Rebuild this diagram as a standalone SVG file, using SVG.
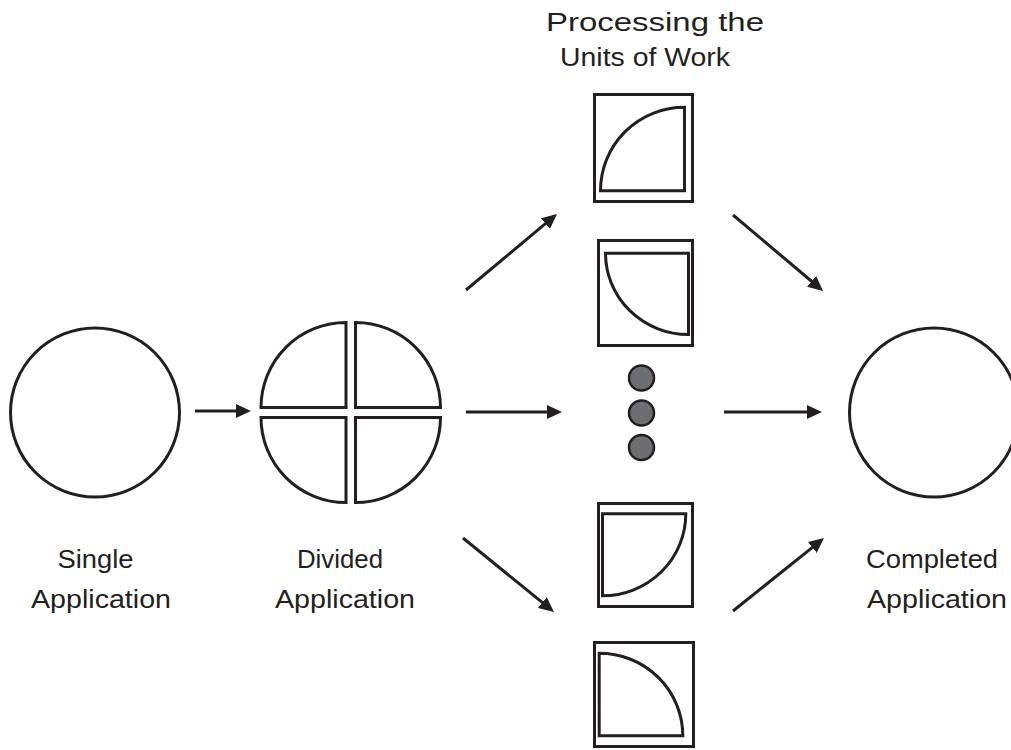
<svg xmlns="http://www.w3.org/2000/svg" width="1011" height="750" viewBox="0 0 1011 750">
<style>
.ln{fill:none;stroke:#231f20;stroke-width:3}
.sh{fill:#fff;stroke:#231f20;stroke-width:3;stroke-linejoin:miter}
.dot{fill:#6d6e71;stroke:#231f20;stroke-width:2.5}
.arr{fill:none;stroke:#231f20;stroke-width:3;marker-end:url(#ah)}
.lbl{font-family:"Liberation Sans",Arial,sans-serif;font-size:26px;fill:#231f20;text-anchor:middle}
</style>
<defs>
<marker id="ah" markerUnits="userSpaceOnUse" markerWidth="15" markerHeight="14" viewBox="0 0 15 14" refX="5" refY="7" orient="auto">
<path d="M0,0 L15,7 L0,14 z" fill="#231f20"/>
</marker>
</defs>
<rect width="1011" height="750" fill="#fff"/>

<g id="single-application">
<circle class="sh" cx="95" cy="412.5" r="84.5"/>
<text class="lbl" x="95.5" y="568" textLength="76" lengthAdjust="spacingAndGlyphs">Single</text>
<text class="lbl" x="101" y="608" textLength="140" lengthAdjust="spacingAndGlyphs">Application</text>
</g>

<g id="divided-application">
<path class="sh" d="M346,407.5 V322.5 A85,85 0 0 0 261,407.5 Z"/>
<path class="sh" d="M355.5,407.5 V322.5 A85,85 0 0 1 440.5,407.5 Z"/>
<path class="sh" d="M346,417.5 V502.5 A85,85 0 0 1 261,417.5 Z"/>
<path class="sh" d="M355.5,417.5 V502.5 A85,85 0 0 0 440.5,417.5 Z"/>
<text class="lbl" x="340" y="568" textLength="86" lengthAdjust="spacingAndGlyphs">Divided</text>
<text class="lbl" x="345" y="608" textLength="140" lengthAdjust="spacingAndGlyphs">Application</text>
</g>

<g id="processing-units">
<text class="lbl" x="655" y="31" textLength="218" lengthAdjust="spacingAndGlyphs">Processing the</text>
<text class="lbl" x="645" y="66" textLength="170" lengthAdjust="spacingAndGlyphs">Units of Work</text>
<g id="unit-1">
<rect class="sh" x="594.5" y="94.5" width="98" height="107"/>
<path class="sh" d="M684.5,190.8 H600.5 A84,83.6 0 0 1 684.5,107.2 Z"/>
</g>
<g id="unit-2">
<rect class="sh" x="598.5" y="240.5" width="94" height="105"/>
<path class="sh" d="M688.5,253.2 V334.5 A83,81.3 0 0 1 605.5,253.2 Z"/>
</g>
<g id="ellipsis">
<circle class="dot" cx="641.5" cy="378" r="12.5"/>
<circle class="dot" cx="641.5" cy="413" r="12.5"/>
<circle class="dot" cx="641.5" cy="447.5" r="12.5"/>
</g>
<g id="unit-3">
<rect class="sh" x="598.5" y="503.5" width="94" height="103"/>
<path class="sh" d="M602.5,513.8 H685.8 A83.3,82 0 0 1 602.5,595.8 Z"/>
</g>
<g id="unit-4">
<rect class="sh" x="594.5" y="642.5" width="99" height="104"/>
<path class="sh" d="M599.2,735.8 V653.2 A83.6,82.6 0 0 1 682.8,735.8 Z"/>
</g>
</g>

<g id="completed-application">
<circle class="sh" cx="934" cy="412.5" r="84.5"/>
<text class="lbl" x="932" y="568" textLength="132" lengthAdjust="spacingAndGlyphs">Completed</text>
<text class="lbl" x="937" y="608" textLength="140" lengthAdjust="spacingAndGlyphs">Application</text>
</g>

<g id="connectors">
<line class="arr" x1="195" y1="411" x2="241" y2="411"/>
<line class="arr" x1="466" y1="290" x2="549.3" y2="220.4"/>
<line class="arr" x1="466" y1="412" x2="552" y2="412"/>
<line class="arr" x1="463" y1="538" x2="546.2" y2="605.7"/>
<line class="arr" x1="733" y1="215" x2="815.4" y2="284.5"/>
<line class="arr" x1="724" y1="412" x2="812" y2="412"/>
<line class="arr" x1="733" y1="611" x2="816.2" y2="544.3"/>
</g>
</svg>
